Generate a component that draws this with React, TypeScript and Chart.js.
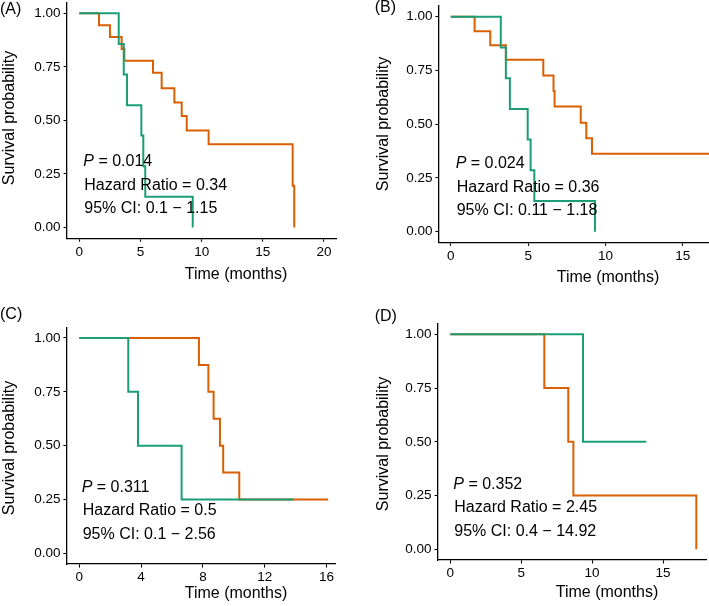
import React, { useEffect, useRef } from 'react';
import { Chart, registerables } from 'chart.js';

Chart.register(...registerables);

// ---- data ----
const yTicks = [0, 0.25, 0.5, 0.75, 1];

// (A)
const timeA1 = [0, 1.61, 2.51, 3.46, 3.68, 6.02, 6.73, 7.77, 8.37, 8.78, 10.57, 17.44, 17.57];
const survA1 = [1, 0.944, 0.889, 0.833, 0.778, 0.722, 0.65, 0.584, 0.52, 0.453, 0.389, 0.195, 0];
const timeA2 = [0, 3.22, 3.63, 3.9, 5.07, 5.23, 5.39, 9.27];
const survA2 = [1, 0.857, 0.714, 0.571, 0.429, 0.286, 0.143, 0];
const xTicksA = [0, 5, 10, 15, 20];
const statsA = ['0.014', '0.34', '0.1 − 1.15'];

// (B)
const timeB1 = [0, 1.54, 2.55, 3.56, 5.98, 6.64, 6.71, 8.4, 8.76, 9.13, 16.9];
const survB1 = [1, 0.933, 0.867, 0.8, 0.727, 0.655, 0.582, 0.507, 0.435, 0.363, 0.363];
const timeB2 = [0, 3.23, 3.56, 3.82, 4.97, 5.16, 5.4, 9.32];
const survB2 = [1, 0.857, 0.714, 0.571, 0.429, 0.286, 0.143, 0];
const xTicksB = [0, 5, 10, 15];
const statsB = ['0.024', '0.36', '0.11 − 1.18'];

// (C)
const timeC1 = [0, 7.74, 8.35, 8.69, 9.1, 9.31, 10.35, 16.1];
const survC1 = [1, 0.875, 0.75, 0.625, 0.5, 0.375, 0.25, 0.25];
const timeC2 = [0, 3.17, 3.8, 6.62, 13.84];
const survC2 = [1, 0.75, 0.5, 0.25, 0.25];
const xTicksC = [0, 4, 8, 12, 16];
const statsC = ['0.311', '0.5', '0.1 − 2.56'];

// (D)
const timeD1 = [0, 6.63, 8.32, 8.68, 17.35];
const survD1 = [1, 0.75, 0.5, 0.25, 0];
const timeD2 = [0, 9.36, 13.82];
const survD2 = [1, 0.5, 0.5];
const xTicksD = [0, 5, 10, 15];
const statsD = ['0.352', '2.45', '0.4 − 14.92'];

const ORANGE = '#D95F02';
const GREEN = '#1B9E77';
const FONT = '"Liberation Sans", Arial, sans-serif';

const M = 30; // canvas overhang around the page
const W = 709 + 2 * M;
const H = 606 + 2 * M;
const Y_W = 50;
const X_H = 40;

interface PanelSpec {
  tag: string;
  area: { left: number; top: number; right: number; bottom: number };
  xMin: number;
  xMax: number;
  xTicks: number[];
  t1: number[];
  s1: number[];
  t2: number[];
  s2: number[];
  stats: string[];
  statAt: [number, number];
  xTitleAt: [number, number];
  yTitleAt: [number, number];
  tagAt: [number, number];
}

const panels: PanelSpec[] = [
  {
    tag: 'A',
    area: { left: 67.1, top: 2.6, right: 336.2, bottom: 238.2 },
    xMin: -1, xMax: 21, xTicks: xTicksA,
    t1: timeA1, s1: survA1, t2: timeA2, s2: survA2,
    stats: statsA,
    statAt: [83.3, 161.7], xTitleAt: [236, 275], yTitleAt: [10, 118], tagAt: [0, 10],
  },
  {
    tag: 'B',
    area: { left: 438.9, top: 6, right: 712.2, bottom: 242.4 },
    xMin: -0.77, xMax: 16.9, xTicks: xTicksB,
    t1: timeB1, s1: survB1, t2: timeB2, s2: survB2,
    stats: statsB,
    statAt: [455.7, 163.8], xTitleAt: [608, 277.3], yTitleAt: [384, 124], tagAt: [374.7, 8],
  },
  {
    tag: 'C',
    area: { left: 66.9, top: 327.2, right: 335.9, bottom: 564.1 },
    xMin: -0.8, xMax: 16.6, xTicks: xTicksC,
    t1: timeC1, s1: survC1, t2: timeC2, s2: survC2,
    stats: statsC,
    statAt: [81.7, 487.3], xTitleAt: [236, 593.3], yTitleAt: [10, 448], tagAt: [0, 315],
  },
  {
    tag: 'D',
    area: { left: 438.1, top: 323.6, right: 706.4, bottom: 560 },
    xMin: -0.86, xMax: 18.06, xTicks: xTicksD,
    t1: timeD1, s1: survD1, t2: timeD2, s2: survD2,
    stats: statsD,
    statAt: [453.3, 484.3], xTitleAt: [607, 592.7], yTitleAt: [383.3, 444], tagAt: [374.7, 316.5],
  },
];

const toPoints = (t: number[], s: number[]) => t.map((x, i) => ({ x, y: s[i] }));

const Panel: React.FC<{ spec: PanelSpec }> = ({ spec }) => {
  const canvasRef = useRef<HTMLCanvasElement>(null);

  useEffect(() => {
    if (!canvasRef.current) return;
    const ctx = canvasRef.current.getContext('2d');
    if (!ctx) return;
    const { area } = spec;

    const overlay = {
      id: 'overlay',
      afterDraw(chart: Chart) {
        const c = chart.ctx;
        c.save();
        c.fillStyle = '#000';
        c.textBaseline = 'middle';
        c.textAlign = 'left';
        c.font = `16px ${FONT}`;
        c.fillText(`(${spec.tag})`, spec.tagAt[0] + M, spec.tagAt[1] + M);

        c.textAlign = 'center';
        c.fillText('Time (months)', spec.xTitleAt[0] + M, spec.xTitleAt[1] + M);

        c.save();
        c.translate(spec.yTitleAt[0] + M, spec.yTitleAt[1] + M);
        c.rotate(-Math.PI / 2);
        c.fillText('Survival probability', 0, 0);
        c.restore();

        // statistics block
        c.textAlign = 'left';
        const sx = spec.statAt[0] + M;
        const sy = spec.statAt[1] + M;
        const gap = 23.5;
        c.font = `italic 16px ${FONT}`;
        c.fillText('P', sx, sy);
        const pw = c.measureText('P').width;
        c.font = `16px ${FONT}`;
        c.fillText(` = ${spec.stats[0]}`, sx + pw, sy);
        c.fillText(`Hazard Ratio = ${spec.stats[1]}`, sx + 1, sy + gap);
        c.fillText(`95% CI: ${spec.stats[2]}`, sx + 1, sy + 2 * gap);
        c.restore();
      },
    };

    const axisCommon = {
      grid: {
        display: true,
        drawOnChartArea: false,
        drawTicks: true,
        tickLength: 3.5,
        tickColor: '#000',
        tickWidth: 1.1,
      },
      border: { display: true, color: '#000', width: 1.3 },
    };

    const chart = new Chart(ctx, {
      type: 'line',
      data: {
        datasets: [
          {
            label: 'Group 2',
            data: toPoints(spec.t2, spec.s2),
            borderColor: GREEN,
            borderWidth: 2,
            pointRadius: 0,
            stepped: 'before',
            fill: false,
          },
          {
            label: 'Group 1',
            data: toPoints(spec.t1, spec.s1),
            borderColor: ORANGE,
            borderWidth: 2,
            pointRadius: 0,
            stepped: 'before',
            fill: false,
          },
        ],
      },
      options: {
        responsive: false,
        animation: false,
        events: [],
        layout: {
          padding: {
            left: area.left + M - Y_W,
            top: area.top + M,
            right: W - area.right - M,
            bottom: H - area.bottom - M - X_H,
          },
        },
        plugins: { legend: { display: false }, tooltip: { enabled: false } },
        scales: {
          x: {
            type: 'linear',
            min: spec.xMin,
            max: spec.xMax,
            afterBuildTicks: (s: any) => {
              s.ticks = spec.xTicks.map((v) => ({ value: v }));
            },
            afterFit: (s: any) => {
              s.height = X_H;
            },
            ...axisCommon,
            ticks: {
              color: '#000',
              font: { family: FONT, size: 13.5 },
              padding: 2,
              maxRotation: 0,
              autoSkip: false,
              callback: (v: any) => String(v),
            },
          },
          y: {
            type: 'linear',
            min: -0.05,
            max: 1.05,
            afterBuildTicks: (s: any) => {
              s.ticks = yTicks.map((v) => ({ value: v }));
            },
            afterFit: (s: any) => {
              s.width = Y_W;
            },
            ...axisCommon,
            ticks: {
              color: '#000',
              font: { family: FONT, size: 13.5 },
              padding: 3,
              autoSkip: false,
              callback: (v: any) => Number(v).toFixed(2),
            },
          },
        },
      },
      plugins: [overlay],
    });

    return () => chart.destroy();
  }, [spec]);

  return (
    <canvas
      ref={canvasRef}
      width={W}
      height={H}
      style={{ position: 'absolute', left: -M, top: -M, width: W, height: H }}
    />
  );
};

const App: React.FC = () => (
  <div
    style={{
      position: 'fixed',
      left: 0,
      top: 0,
      width: 709,
      height: 606,
      overflow: 'hidden',
      background: '#fff',
    }}
  >
    {panels.map((p) => (
      <Panel key={p.tag} spec={p} />
    ))}
  </div>
);

export default App;
